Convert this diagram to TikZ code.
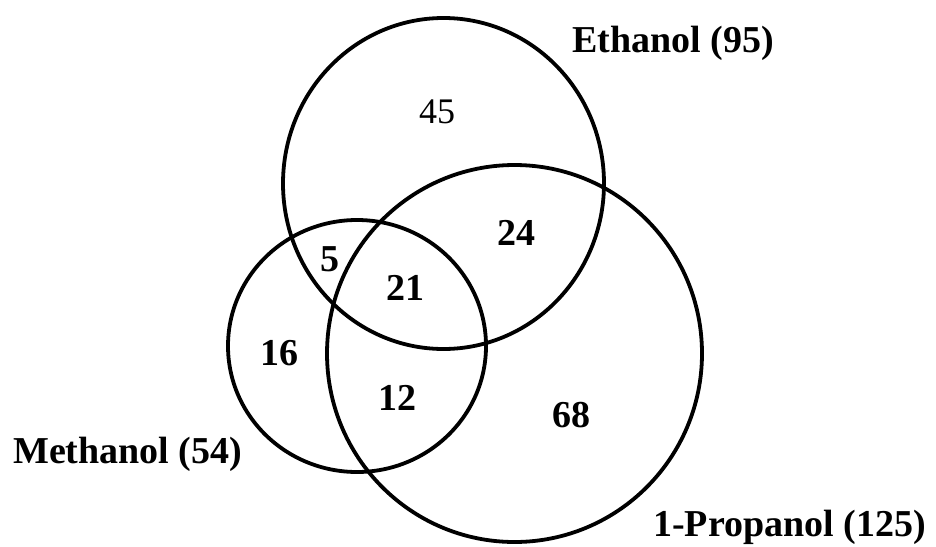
\documentclass[tikz,border=0pt]{standalone}
\usepackage{fontspec}
\setmainfont{Liberation Serif}

\begin{document}
\begin{tikzpicture}[x=1pt,y=-1pt,line cap=round,line join=round,
  ring/.style={draw=black,line width=3.8pt},
  setname/.style={font=\fontsize{38}{40}\selectfont\bfseries,inner sep=0pt,anchor=base west},
  count/.style={font=\fontsize{38}{40}\selectfont\bfseries,inner sep=0pt,anchor=base}]
\path[use as bounding box] (0,0) rectangle (936,546);
% the three sets
\draw[ring] (443.5,183.5) ellipse [x radius=160.5pt,y radius=165.5pt];
\draw[ring] (357,346) ellipse [x radius=129pt,y radius=126pt];
\draw[ring] (514.5,353.5) ellipse [x radius=187.5pt,y radius=188.5pt];
% set names
\node[setname] (ethanol) at (572,52) {Ethanol (95)};
\node[setname] (methanol) at (13,463) {Methanol (54)};
\node[setname] (propanol) at (653,536) {1-Propanol (125)};
% region counts
\node[count,font=\fontsize{36}{40}\selectfont] (onlyE) at (437,123) {45};
\node[count] (EP) at (516,245) {24};
\node[count] (EM) at (330,271) {5};
\node[count] (EMP) at (405,300) {21};
\node[count] (onlyM) at (279,365) {16};
\node[count] (MP) at (397,410) {12};
\node[count] (onlyP) at (571,427) {68};
\end{tikzpicture}
\end{document}
